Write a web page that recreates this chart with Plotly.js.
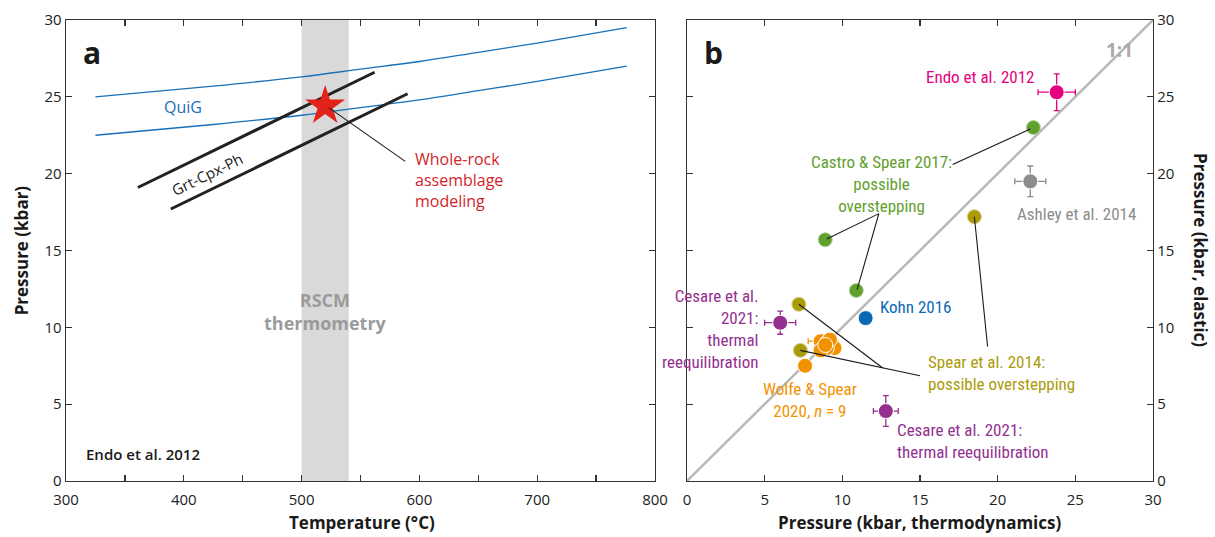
<!DOCTYPE html>
<html>
<head>
<meta charset="utf-8">
<script src="https://cdn.plot.ly/plotly-3.0.1.min.js"></script>
<style>html,body{margin:0;padding:0;background:#fff;}#chart{width:1215px;height:537px;}</style>
</head>
<body>
<div id="chart"></div>
<script>
// ---------- Panel a data ----------
const quigUpperT = [325, 425, 500, 550, 600, 650, 700, 776];
const quigUpperP = [25.0, 25.7, 26.3, 26.8, 27.3, 27.9, 28.5, 29.5];
const quigLowerT = [325, 425, 500, 550, 600, 650, 700, 776];
const quigLowerP = [22.5, 23.2, 23.8, 24.3, 24.8, 25.4, 26.0, 27.0];
const grtUpperT = [361, 562];
const grtUpperP = [19.1, 26.6];
const grtLowerT = [389, 590];
const grtLowerP = [17.7, 25.2];
const rscmRange = [500, 540];
const starT = [520];
const starP = [24.4];
const tempTickVals = [300, 350, 400, 450, 500, 550, 600, 650, 700, 750, 800];
const tempTickText = ['300', '', '400', '', '500', '', '600', '', '700', '', '800'];

// ---------- Panel b data ----------
const oneToOneX = [0, 30];
const oneToOneY = [0, 30];
const endoX = [23.8], endoY = [25.3], endoEX = [1.2], endoEY = [1.2];
const castroX = [22.3, 8.9, 10.9], castroY = [23.0, 15.7, 12.4], castroEX = [0.3, 0.3, 0.3], castroEY = [0.3, 0.3, 0.3];
const ashleyX = [22.1], ashleyY = [19.5], ashleyEX = [1.0], ashleyEY = [1.0];
const spearX = [18.5, 7.2, 7.3], spearY = [17.2, 11.5, 8.5], spearEX = [0.3, 0.3, 0.3], spearEY = [0.3, 0.3, 0.3];
const kohnX = [11.5], kohnY = [10.6], kohnEX = [0.3], kohnEY = [0.3];
const cesareX = [6.0, 12.8], cesareY = [10.3, 4.55], cesareEX = [1.0, 0.8], cesareEY = [0.75, 1.0];
const wolfeX = [8.6, 9.0, 9.4, 9.5, 9.0, 8.6, 9.2, 8.9, 7.6];
const wolfeY = [9.1, 9.0, 8.85, 8.65, 8.65, 8.5, 9.2, 8.85, 7.5];
const wolfeEX = [0.8, 0.3, 0.3, 0.3, 0.3, 0.3, 0.3, 0.3, 0.4];
const wolfeEY = [0.3, 0.3, 0.3, 0.3, 0.3, 0.3, 0.3, 0.3, 0.3];

const C = {
  blue: '#1770b8', black: '#222222', red: '#e2231a', redText: '#d21f2b', band: '#d9d9d9',
  magenta: '#e5007d', green: '#62a02e', gray: '#8c8c8c', olive: '#ab9b0a', orange: '#f39200',
  kohn: '#0a69b5', purple: '#93308f', axis: '#333333', oneToOne: '#b8b8b8'
};
const FONT = 'Open Sans, Noto Sans, sans-serif';
const NARROW = 'Liberation Sans Narrow, Roboto Condensed, Roboto, sans-serif';

function pts(x, y, ex, ey, color, size, ring) {
  return {
    type: 'scatter', mode: 'markers', x: x, y: y, xaxis: 'x2', yaxis: 'y2',
    marker: {color: color, size: size, line: {color: ring || '#ffffff', width: 1}},
    error_x: {type: 'data', array: ex, visible: true, color: color, thickness: 1.3, width: 3},
    error_y: {type: 'data', array: ey, visible: true, color: color, thickness: 1.3, width: 3},
    hoverinfo: 'skip', showlegend: false
  };
}

const traces = [
  {type: 'scatter', mode: 'lines', x: quigUpperT, y: quigUpperP, line: {color: C.blue, width: 1.3, shape: 'spline'}, showlegend: false},
  {type: 'scatter', mode: 'lines', x: quigLowerT, y: quigLowerP, line: {color: C.blue, width: 1.3, shape: 'spline'}, showlegend: false},
  {type: 'scatter', mode: 'lines', x: grtUpperT, y: grtUpperP, line: {color: C.black, width: 3}, showlegend: false},
  {type: 'scatter', mode: 'lines', x: grtLowerT, y: grtLowerP, line: {color: C.black, width: 3}, showlegend: false},
  {type: 'scatter', mode: 'markers', x: starT, y: starP, marker: {symbol: 'star', size: 30, color: C.red, line: {width: 0}}, showlegend: false},
  {type: 'scatter', mode: 'lines', x: oneToOneX, y: oneToOneY, xaxis: 'x2', yaxis: 'y2', line: {color: C.oneToOne, width: 2.5}, showlegend: false},
  pts(endoX, endoY, endoEX, endoEY, C.magenta, 15),
  pts(castroX, castroY, castroEX, castroEY, C.green, 14, '#b5d39c'),
  pts(ashleyX, ashleyY, ashleyEX, ashleyEY, C.gray, 15),
  pts(spearX, spearY, spearEX, spearEY, C.olive, 14, '#d9cf8a'),
  pts(kohnX, kohnY, kohnEX, kohnEY, C.kohn, 15),
  pts(cesareX, cesareY, cesareEX, cesareEY, C.purple, 15),
  pts(wolfeX, wolfeY, wolfeEX, wolfeEY, C.orange, 15)
];

function leader(xref, yref, x0, y0, x1, y1) {
  return {type: 'line', xref: xref, yref: yref, x0: x0, y0: y0, x1: x1, y1: y1, line: {color: '#1a1a1a', width: 1.1}};
}

const shapes = [
  {type: 'rect', xref: 'x', yref: 'y', x0: rscmRange[0], x1: rscmRange[1], y0: 0, y1: 30, fillcolor: C.band, line: {width: 0}, layer: 'below'},
  leader('x', 'y', 523, 24.3, 588, 20.8),
  leader('x2', 'y2', 17.1, 20.6, 22.1, 22.9),
  leader('x2', 'y2', 12.35, 17.4, 9.0, 15.75),
  leader('x2', 'y2', 12.35, 17.4, 10.95, 12.45),
  leader('x2', 'y2', 7.2, 11.5, 12.6, 7.35),
  leader('x2', 'y2', 7.3, 8.5, 15.0, 6.85),
  leader('x2', 'y2', 18.5, 17.2, 19.35, 8.75)
];

function ann(xref, yref, x, y, text, color, size, extra) {
  return Object.assign({xref: xref, yref: yref, x: x, y: y, text: text, showarrow: false,
    xanchor: 'center', yanchor: 'middle',
    font: {family: NARROW, size: size, color: color}}, extra || {});
}

const annotations = [
  // panel a
  ann('x', 'y', 322, 27.9, '<b>a</b>', '#1a1a1a', 30, {font: {family: FONT, size: 30, color: '#1a1a1a'}}),
  ann('x', 'y', 399, 24.35, 'QuiG', C.blue, 16, {font: {family: FONT, size: 16, color: C.blue}}),
  ann('x', 'y', 420, 19.95, 'Grt-Cpx-Ph', C.black, 15, {textangle: -26, font: {family: FONT, size: 15, color: C.black}}),
  ann('x', 'y', 594.5, 19.6, 'Whole-rock<br>assemblage<br>modeling', C.redText, 16, {xanchor: 'left', align: 'left', font: {family: FONT, size: 16, color: C.redText}}),
  ann('x', 'y', 520, 11.05, '<b>RSCM</b><br><b>thermometry</b>', '#9b9b9b', 18, {font: {family: FONT, size: 18, color: '#9b9b9b'}}),
  ann('x', 'y', 315, 1.75, 'Endo et al. 2012', '#1a1a1a', 15, {xanchor: 'left', font: {family: FONT, size: 15, color: '#1a1a1a', weight: 600}}),
  // panel b
  ann('x2', 'y2', 1.7, 27.9, '<b>b</b>', '#1a1a1a', 30, {font: {family: FONT, size: 30, color: '#1a1a1a'}}),
  ann('x2', 'y2', 27.85, 28.05, '<b>1:1</b>', '#aaaaaa', 19, {font: {family: FONT, size: 19, color: '#aaaaaa'}}),
  ann('x2', 'y2', 22.45, 26.3, 'Endo et al. 2012', C.magenta, 17, {xanchor: 'right'}),
  ann('x2', 'y2', 12.5, 19.3, 'Castro &amp; Spear 2017:<br>possible<br>overstepping', C.green, 17),
  ann('x2', 'y2', 25.1, 17.4, 'Ashley et al. 2014', C.gray, 17),
  ann('x2', 'y2', 12.3, 11.3, 'Kohn 2016', C.kohn, 17, {xanchor: 'left'}),
  ann('x2', 'y2', 4.7, 9.9, 'Cesare et al.<br>2021:<br>thermal<br>reequilibration', C.purple, 17, {xanchor: 'right', align: 'right'}),
  ann('x2', 'y2', 7.9, 5.27, 'Wolfe &amp; Spear<br>2020, <i>n</i> = 9', C.orange, 17),
  ann('x2', 'y2', 15.4, 7.06, 'Spear et al. 2014:<br>possible overstepping', C.olive, 17, {xanchor: 'left', align: 'left'}),
  ann('x2', 'y2', 13.4, 2.6, 'Cesare et al. 2021:<br>thermal reequilibration', C.purple, 17, {xanchor: 'left', align: 'left'}),
  // axis titles
  ann('paper', 'paper', 0.018, 0.5, '<b>Pressure (kbar)</b>', '#1a1a1a', 17, {textangle: -90, font: {family: FONT, size: 17, color: '#1a1a1a'}}),
  ann('paper', 'paper', 0.988, 0.5, '<b>Pressure (kbar, elastic)</b>', '#1a1a1a', 17, {textangle: 90, font: {family: FONT, size: 17, color: '#1a1a1a'}}),
  ann('paper', 'paper', 0.298, -0.091, '<b>Temperature (°C)</b>', '#1a1a1a', 17, {font: {family: FONT, size: 17, color: '#1a1a1a'}}),
  ann('paper', 'paper', 0.757, -0.091, '<b>Pressure (kbar, thermodynamics)</b>', '#1a1a1a', 17, {font: {family: FONT, size: 17, color: '#1a1a1a'}})
];

const axCommon = {
  showline: true, linecolor: C.axis, linewidth: 1.3, mirror: 'ticks', ticks: 'inside',
  ticklen: 6, tickwidth: 1.2, tickcolor: C.axis, showgrid: false, zeroline: false,
  tickfont: {family: FONT, size: 15, color: '#222'}, fixedrange: true
};

const layout = {
  width: 1215, height: 537,
  margin: {l: 0, r: 0, t: 20, b: 56},
  paper_bgcolor: '#ffffff', plot_bgcolor: 'rgba(0,0,0,0)',
  showlegend: false,
  xaxis: Object.assign({}, axCommon, {domain: [66/1215, 655/1215], range: [300, 800], tickvals: tempTickVals, ticktext: tempTickText, anchor: 'y', ticklabelstandoff: 5}),
  yaxis: Object.assign({}, axCommon, {domain: [0, 1], range: [0, 30], dtick: 5, tick0: 0, anchor: 'x'}),
  xaxis2: Object.assign({}, axCommon, {domain: [687/1215, 1153/1215], range: [0, 30], dtick: 5, tick0: 0, anchor: 'y2', ticklabelstandoff: 5}),
  yaxis2: Object.assign({}, axCommon, {domain: [0, 1], range: [0, 30], dtick: 5, tick0: 0, anchor: 'x2', side: 'right'}),
  shapes: shapes,
  annotations: annotations
};

Plotly.newPlot('chart', traces, layout, {displayModeBar: false, staticPlot: true});
</script>
</body>
</html>
